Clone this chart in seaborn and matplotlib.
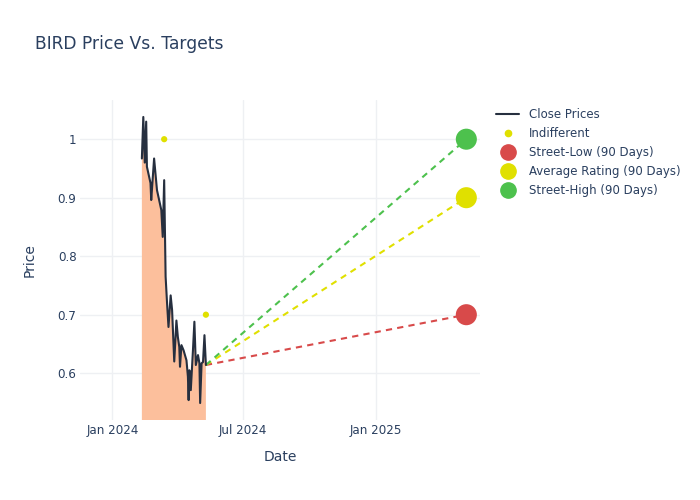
import matplotlib
matplotlib.use("Agg")
import matplotlib.pyplot as plt
import matplotlib.dates as mdates
from matplotlib.lines import Line2D
import seaborn as sns
import pandas as pd

# close prices
price_dates = ["2024-02-11", "2024-02-13", "2024-02-15", "2024-02-17", "2024-02-18",
               "2024-02-23", "2024-02-24", "2024-02-28", "2024-03-03", "2024-03-06",
               "2024-03-09", "2024-03-11", "2024-03-13", "2024-03-15", "2024-03-17",
               "2024-03-19", "2024-03-22", "2024-03-24", "2024-03-27", "2024-03-30",
               "2024-04-01", "2024-04-03", "2024-04-04", "2024-04-06", "2024-04-09",
               "2024-04-13", "2024-04-15", "2024-04-16", "2024-04-17", "2024-04-19",
               "2024-04-22", "2024-04-24", "2024-04-26", "2024-04-29", "2024-05-01",
               "2024-05-02", "2024-05-04", "2024-05-06", "2024-05-08", "2024-05-10"]
close_prices = [0.967, 1.038, 0.960, 1.030, 0.953,
                0.925, 0.896, 0.967, 0.913, 0.896,
                0.879, 0.833, 0.930, 0.765, 0.720,
                0.679, 0.733, 0.708, 0.620, 0.690,
                0.662, 0.645, 0.611, 0.648, 0.639,
                0.622, 0.594, 0.554, 0.605, 0.571,
                0.639, 0.688, 0.614, 0.631, 0.617,
                0.549, 0.617, 0.619, 0.665, 0.614]

# analyst ratings
rating_dates = ["2024-03-13", "2024-05-10"]
rating_values = [1.0, 0.70]

# 90 day targets
target_date = "2025-05-07"
target_labels = ["Street-Low (90 Days)", "Average Rating (90 Days)", "Street-High (90 Days)"]
target_values = [0.70, 0.90, 1.00]
target_colors = ["#d84a4a", "#e0e000", "#4dc14d"]

df = pd.DataFrame({"Date": pd.to_datetime(price_dates), "Price": close_prices})
ratings = pd.DataFrame({"Date": pd.to_datetime(rating_dates), "Price": rating_values})

sns.set_style("white")
plt.rcParams["font.family"] = ["DejaVu Sans"]
text_col = "#2a3f5f"

fig = plt.figure(figsize=(7, 5), dpi=100)
ax = fig.add_axes([80 / 700, 80 / 500, 400 / 700, 320 / 500])

ymin, ymax = 0.52, 1.067
ax.fill_between(df["Date"], df["Price"], ymin - 1, color="#fcbf9c", lw=0, zorder=1)
sns.lineplot(data=df, x="Date", y="Price", color="#262f3f", lw=1.5, ax=ax, zorder=3)
sns.scatterplot(data=ratings, x="Date", y="Price", color="#e0e000", s=20,
                edgecolor="none", ax=ax, zorder=4)

last_date = df["Date"].iloc[-1]
last_price = df["Price"].iloc[-1]
tdate = pd.to_datetime(target_date)
for val, col in zip(target_values, target_colors):
    ax.plot([last_date, tdate], [last_price, val], color=col, lw=1.5,
            ls=(0, (3, 2.5)), zorder=2)
tdf = pd.DataFrame({"Date": [tdate] * 3, "Price": target_values, "lab": target_labels})
sns.scatterplot(data=tdf, x="Date", y="Price", hue="lab", palette=target_colors,
                s=230, edgecolor="none", ax=ax, legend=False, zorder=5)

ax.set_xlim(pd.Timestamp("2023-11-17"), pd.Timestamp("2025-05-26"))
ax.set_ylim(ymin, ymax)
ax.set_yticks([0.6, 0.7, 0.8, 0.9, 1.0])
ax.set_yticklabels(["0.6", "0.7", "0.8", "0.9", "1"])
ax.set_xticks(pd.to_datetime(["2024-01-01", "2024-07-01", "2025-01-01"]))
ax.xaxis.set_major_formatter(mdates.DateFormatter("%b %Y"))
ax.grid(True, color="#eef0f3", lw=1)
for s in ax.spines.values():
    s.set_visible(False)
ax.tick_params(length=0, labelsize=8.6, colors=text_col)
ax.tick_params(axis="x", pad=3)
ax.tick_params(axis="y", pad=2.5)
ax.set_xlabel("Date", fontsize=10, color=text_col, labelpad=9)
ax.set_ylabel("Price", fontsize=10, color=text_col, labelpad=15)

fig.text(35 / 700, 1 - 44 / 500, "BIRD Price Vs. Targets", fontsize=12.3,
         color=text_col, va="center")

handles = [Line2D([], [], color="#262f3f", lw=1.5),
           Line2D([], [], color="#e0e000", marker="o", ls="", ms=4.5),
           Line2D([], [], color=target_colors[0], marker="o", ls="", ms=11),
           Line2D([], [], color=target_colors[1], marker="o", ls="", ms=11),
           Line2D([], [], color=target_colors[2], marker="o", ls="", ms=11)]
labels = ["Close Prices", "Indifferent"] + target_labels
leg = fig.legend(handles, labels, loc="upper left", bbox_to_anchor=(491 / 700, 1 - 103 / 500),
                 frameon=False, fontsize=8.5, handlelength=2.0, labelspacing=0.52,
                 handletextpad=0.8, borderaxespad=0)
for t in leg.get_texts():
    t.set_color(text_col)

fig.savefig("out.png", dpi=100)
